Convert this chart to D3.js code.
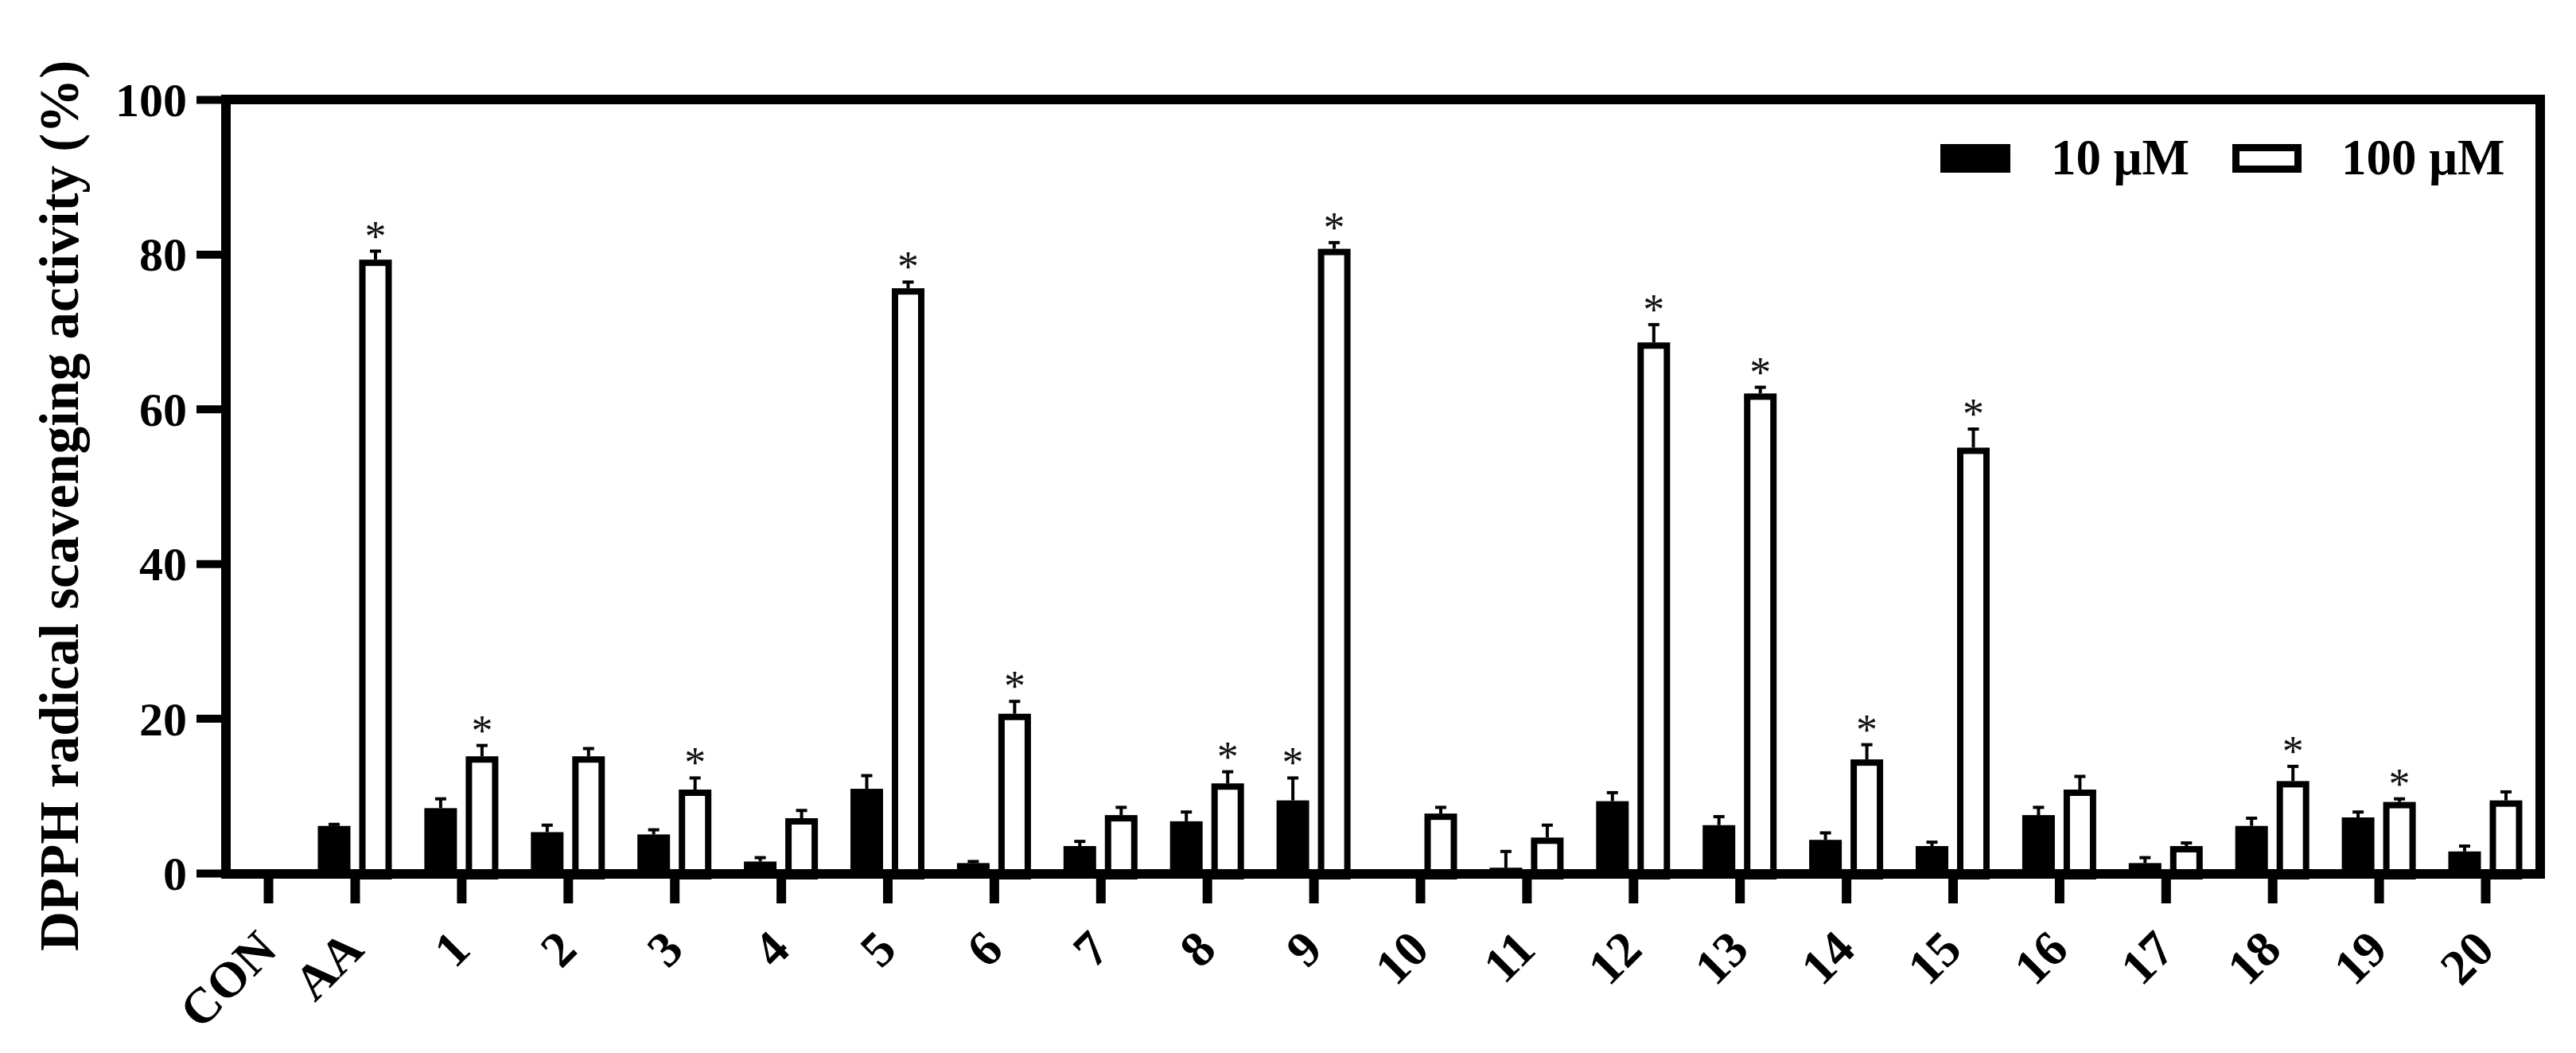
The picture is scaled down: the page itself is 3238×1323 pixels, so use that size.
<!DOCTYPE html>
<html>
<head>
<meta charset="utf-8">
<script src="https://cdn.jsdelivr.net/npm/d3@7"></script>
<style>
  html, body { margin: 0; padding: 0; background: #fff; }
  svg { display: block; }
  text { font-family: "Liberation Serif", "Times New Roman", serif; }
</style>
</head>
<body>
<svg id="chart" width="3238" height="1323"></svg>
<script>
// ---------- data ----------
const categories = ["CON","AA","1","2","3","4","5","6","7","8","9","10","11","12","13","14","15","16","17","18","19","20"];
const seriesNames = ["10 μM", "100 μM"];
const low10      = [0, 6.1, 8.4, 5.3, 5.0, 1.5, 10.9, 1.3, 3.5, 6.7, 9.4, 0, 0.7, 9.3, 6.2, 4.3, 3.5, 7.5, 1.3, 6.1, 7.2, 2.8];
const low10Err   = [0, 0.2, 1.2, 0.9, 0.6, 0.5, 1.7, 0.2, 0.6, 1.2, 2.9, 0, 2.1, 1.1, 1.1, 0.9, 0.5, 1.0, 0.7, 1.0, 0.7, 0.7];
const high100    = [0, 79.3, 15.1, 15.1, 10.8, 7.1, 75.6, 20.6, 7.5, 11.6, 80.7, 7.7, 4.6, 68.6, 62.0, 14.7, 55.0, 10.8, 3.5, 11.9, 9.2, 9.4];
const high100Err = [0, 1.1, 1.4, 1.0, 1.5, 1.0, 0.8, 1.6, 1.0, 1.5, 0.8, 0.8, 1.6, 2.3, 0.8, 1.9, 2.4, 1.7, 0.4, 1.9, 0.4, 1.1];
const sig10  = ["9"];
const sig100 = ["AA","1","3","5","6","8","9","12","13","14","15","18","19"];
const yTicks = [0, 20, 40, 60, 80, 100];
const yTitle = "DPPH radical scavenging activity (%)";

// ---------- layout ----------
const svg = d3.select("#chart");
const plotL = 284, plotR = 3193, plotT = 125, plotB = 1097;
const FONT = '"Liberation Serif", "Times New Roman", serif';

const y = d3.scaleLinear().domain([0, 100]).range([plotB, plotT]);
// group centres: CON sits closer to the axis, remaining groups evenly spaced
const x = d3.scaleLinear().domain([0, 1, categories.length - 1]).range([337, 446, 3124]);
const barW = 41, barOff = 26, strokeW = 8;

// ---------- bars ----------
const rows = categories.map((c, i) => ({
  cat: c, i,
  low: low10[i], lowErr: low10Err[i],
  high: high100[i], highErr: high100Err[i]
}));

const gBars = svg.append("g");
// 10 µM (black filled)
gBars.selectAll("rect.low").data(rows.filter(d => d.low > 0)).join("rect")
  .attr("class", "low")
  .attr("x", d => x(d.i) - barOff - barW / 2)
  .attr("y", d => y(d.low))
  .attr("width", barW)
  .attr("height", d => y(0) - y(d.low))
  .attr("fill", "#000");
// 100 µM (open)
gBars.selectAll("rect.high").data(rows.filter(d => d.high > 0)).join("rect")
  .attr("class", "high")
  .attr("x", d => x(d.i) + barOff - barW / 2 + strokeW / 2)
  .attr("y", d => y(d.high) + strokeW / 2)
  .attr("width", barW - strokeW)
  .attr("height", d => y(0) - y(d.high))
  .attr("fill", "#fff")
  .attr("stroke", "#000")
  .attr("stroke-width", strokeW);

// ---------- error bars ----------
function errBars(data, valKey, errKey, off) {
  const g = svg.append("g").attr("stroke", "#000");
  const dd = data.filter(d => d[valKey] > 0 && d[errKey] > 0);
  g.selectAll("line.stem").data(dd).join("line")
    .attr("x1", d => x(d.i) + off).attr("x2", d => x(d.i) + off)
    .attr("y1", d => y(d[valKey]))
    .attr("y2", d => y(d[valKey] + d[errKey]))
    .attr("stroke-width", 4);
  g.selectAll("line.cap").data(dd).join("line")
    .attr("x1", d => x(d.i) + off - 7).attr("x2", d => x(d.i) + off + 7)
    .attr("y1", d => y(d[valKey] + d[errKey]))
    .attr("y2", d => y(d[valKey] + d[errKey]))
    .attr("stroke-width", 4);
}
errBars(rows, "low", "lowErr", -barOff);
errBars(rows, "high", "highErr", barOff);

// ---------- significance stars ----------
const stars = [];
rows.forEach(d => {
  if (sig10.includes(d.cat)) stars.push({ cx: x(d.i) - barOff, top: y(d.low + d.lowErr) });
  if (sig100.includes(d.cat)) stars.push({ cx: x(d.i) + barOff, top: y(d.high + d.highErr) });
});
svg.append("g").selectAll("text").data(stars).join("text")
  .attr("x", d => d.cx)
  .attr("y", d => d.top - 1)
  .attr("text-anchor", "middle")
  .attr("font-size", 54)
  .attr("fill", "#111")
  .text("*");

// ---------- frame ----------
svg.append("rect")
  .attr("x", plotL).attr("y", plotT)
  .attr("width", plotR - plotL).attr("height", plotB - plotT + 1)
  .attr("fill", "none").attr("stroke", "#000").attr("stroke-width", 12);

// ---------- y axis ----------
const yAxis = svg.append("g")
  .attr("transform", `translate(${plotL},0)`)
  .call(d3.axisLeft(y).tickValues(yTicks).tickSize(37).tickPadding(12));
yAxis.select(".domain").remove();
yAxis.selectAll(".tick line").attr("stroke", "#000").attr("stroke-width", 10);
yAxis.selectAll(".tick text")
  .attr("font-family", FONT).attr("font-weight", "bold").attr("font-size", 60)
  .attr("fill", "#000").attr("dy", "0.34em");

// ---------- x axis ----------
const xAxis = svg.append("g")
  .attr("transform", `translate(0,${plotB + 1})`)
  .call(d3.axisBottom(x).tickValues(d3.range(categories.length)).tickSize(37).tickFormat(""));
xAxis.select(".domain").remove();
xAxis.selectAll(".tick line").attr("stroke", "#000").attr("stroke-width", 12);

svg.append("g").selectAll("text").data(categories).join("text")
  .attr("transform", (d, i) => `translate(${x(i) + 14},1196) rotate(-45)`)
  .attr("text-anchor", "end")
  .attr("font-weight", "bold")
  .attr("font-size", 63)
  .attr("fill", "#000")
  .text(d => d);

// ---------- y title ----------
svg.append("text")
  .attr("transform", "translate(98,1195) rotate(-90)")
  .attr("text-anchor", "start")
  .attr("font-weight", "bold")
  .attr("font-size", 69)
  .attr("fill", "#000")
  .text(yTitle);

// ---------- legend ----------
const legend = svg.append("g");
legend.append("rect").attr("x", 2439).attr("y", 181).attr("width", 88).attr("height", 36).attr("fill", "#000");
legend.append("text").attr("x", 2578).attr("y", 219)
  .attr("font-weight", "bold").attr("font-size", 63).attr("fill", "#000").text(seriesNames[0]);
legend.append("rect").attr("x", 2810.5).attr("y", 185.5).attr("width", 78).attr("height", 27)
  .attr("fill", "#fff").attr("stroke", "#000").attr("stroke-width", 9);
legend.append("text").attr("x", 2943).attr("y", 219)
  .attr("font-weight", "bold").attr("font-size", 63).attr("fill", "#000").text(seriesNames[1]);
</script>
</body>
</html>
